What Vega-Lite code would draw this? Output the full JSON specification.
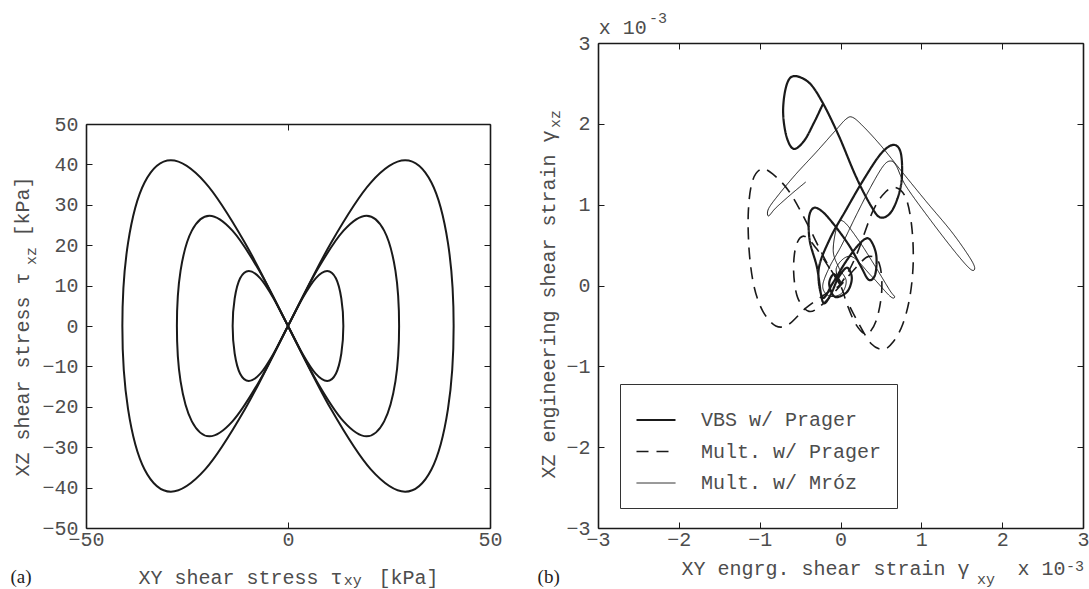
{
  "$schema": "https://vega.github.io/schema/vega-lite/v6.json",
  "background": "white",
  "padding": {"left": 10, "top": 10, "right": 5, "bottom": 0},
  "spacing": 108,
  "bounds": "flush",
  "config": {
    "view": {"stroke": null},
    "axis": {
      "labelFont": "Liberation Mono", "labelFontSize": 20, "labelColor": "#4d4d4d",
      "titleFont": "Liberation Mono", "titleFontSize": 20, "titleFontWeight": "normal", "titleColor": "#4d4d4d",
      "domainColor": "#1a1a1a", "domainWidth": 1.6, "tickColor": "#1a1a1a", "tickWidth": 1, "tickSize": -6,
      "labelPadding": 14, "labelFlush": false, "labelOverlap": false, "grid": false
    },
    "axisBottom": {"labelPadding": 7}
  },
  "hconcat": [
    {
      "width": 404,
      "height": 485,
      "resolve": {"axis": {"x": "independent", "y": "independent"}},
      "layer": [
        {
          "data": {"values": [
            {"curve": "outer", "i": 0, "x": 0, "y": 0},
            {"curve": "outer", "i": 1, "x": 10.6, "y": 20.5},
            {"curve": "outer", "i": 2, "x": 20.5, "y": 35.5},
            {"curve": "outer", "i": 3, "x": 29.0, "y": 41.0},
            {"curve": "outer", "i": 4, "x": 35.5, "y": 35.5},
            {"curve": "outer", "i": 5, "x": 39.6, "y": 20.5},
            {"curve": "outer", "i": 6, "x": 41.0, "y": 0},
            {"curve": "outer", "i": 7, "x": 39.6, "y": -20.5},
            {"curve": "outer", "i": 8, "x": 35.5, "y": -35.5},
            {"curve": "outer", "i": 9, "x": 29.0, "y": -41.0},
            {"curve": "outer", "i": 10, "x": 20.5, "y": -35.5},
            {"curve": "outer", "i": 11, "x": 10.6, "y": -20.5},
            {"curve": "outer", "i": 12, "x": 0, "y": 0},
            {"curve": "outer", "i": 13, "x": -10.6, "y": 20.5},
            {"curve": "outer", "i": 14, "x": -20.5, "y": 35.5},
            {"curve": "outer", "i": 15, "x": -29.0, "y": 41.0},
            {"curve": "outer", "i": 16, "x": -35.5, "y": 35.5},
            {"curve": "outer", "i": 17, "x": -39.6, "y": 20.5},
            {"curve": "outer", "i": 18, "x": -41.0, "y": 0},
            {"curve": "outer", "i": 19, "x": -39.6, "y": -20.5},
            {"curve": "outer", "i": 20, "x": -35.5, "y": -35.5},
            {"curve": "outer", "i": 21, "x": -29.0, "y": -41.0},
            {"curve": "outer", "i": 22, "x": -20.5, "y": -35.5},
            {"curve": "outer", "i": 23, "x": -10.6, "y": -20.5},
            {"curve": "middle", "i": 0, "x": 0, "y": 0},
            {"curve": "middle", "i": 1, "x": 7.1, "y": 13.65},
            {"curve": "middle", "i": 2, "x": 13.75, "y": 23.6},
            {"curve": "middle", "i": 3, "x": 19.45, "y": 27.3},
            {"curve": "middle", "i": 4, "x": 23.8, "y": 23.6},
            {"curve": "middle", "i": 5, "x": 26.6, "y": 13.65},
            {"curve": "middle", "i": 6, "x": 27.5, "y": 0},
            {"curve": "middle", "i": 7, "x": 26.6, "y": -13.65},
            {"curve": "middle", "i": 8, "x": 23.8, "y": -23.6},
            {"curve": "middle", "i": 9, "x": 19.45, "y": -27.3},
            {"curve": "middle", "i": 10, "x": 13.75, "y": -23.6},
            {"curve": "middle", "i": 11, "x": 7.1, "y": -13.65},
            {"curve": "middle", "i": 12, "x": 0, "y": 0},
            {"curve": "middle", "i": 13, "x": -7.1, "y": 13.65},
            {"curve": "middle", "i": 14, "x": -13.75, "y": 23.6},
            {"curve": "middle", "i": 15, "x": -19.45, "y": 27.3},
            {"curve": "middle", "i": 16, "x": -23.8, "y": 23.6},
            {"curve": "middle", "i": 17, "x": -26.6, "y": 13.65},
            {"curve": "middle", "i": 18, "x": -27.5, "y": 0},
            {"curve": "middle", "i": 19, "x": -26.6, "y": -13.65},
            {"curve": "middle", "i": 20, "x": -23.8, "y": -23.6},
            {"curve": "middle", "i": 21, "x": -19.45, "y": -27.3},
            {"curve": "middle", "i": 22, "x": -13.75, "y": -23.6},
            {"curve": "middle", "i": 23, "x": -7.1, "y": -13.65},
            {"curve": "inner", "i": 0, "x": 0, "y": 0},
            {"curve": "inner", "i": 1, "x": 3.55, "y": 6.8},
            {"curve": "inner", "i": 2, "x": 6.85, "y": 11.8},
            {"curve": "inner", "i": 3, "x": 9.7, "y": 13.6},
            {"curve": "inner", "i": 4, "x": 11.85, "y": 11.8},
            {"curve": "inner", "i": 5, "x": 13.2, "y": 6.8},
            {"curve": "inner", "i": 6, "x": 13.7, "y": 0},
            {"curve": "inner", "i": 7, "x": 13.2, "y": -6.8},
            {"curve": "inner", "i": 8, "x": 11.85, "y": -11.8},
            {"curve": "inner", "i": 9, "x": 9.7, "y": -13.6},
            {"curve": "inner", "i": 10, "x": 6.85, "y": -11.8},
            {"curve": "inner", "i": 11, "x": 3.55, "y": -6.8},
            {"curve": "inner", "i": 12, "x": 0, "y": 0},
            {"curve": "inner", "i": 13, "x": -3.55, "y": 6.8},
            {"curve": "inner", "i": 14, "x": -6.85, "y": 11.8},
            {"curve": "inner", "i": 15, "x": -9.7, "y": 13.6},
            {"curve": "inner", "i": 16, "x": -11.85, "y": 11.8},
            {"curve": "inner", "i": 17, "x": -13.2, "y": 6.8},
            {"curve": "inner", "i": 18, "x": -13.7, "y": 0},
            {"curve": "inner", "i": 19, "x": -13.2, "y": -6.8},
            {"curve": "inner", "i": 20, "x": -11.85, "y": -11.8},
            {"curve": "inner", "i": 21, "x": -9.7, "y": -13.6},
            {"curve": "inner", "i": 22, "x": -6.85, "y": -11.8},
            {"curve": "inner", "i": 23, "x": -3.55, "y": -6.8}
          ]},
          "mark": {"type": "line", "interpolate": "cardinal-closed", "stroke": "#1a1a1a", "strokeWidth": 2},
          "encoding": {
            "x": {"field": "x", "type": "quantitative",
                  "scale": {"domain": [-50, 50], "nice": false, "zero": false},
                  "axis": {"orient": "bottom", "values": [-50, 0, 50], "title": "XY shear stress τ\u00a0\u00a0\u00a0[kPa]",
                           "titleY": 55, "titleBaseline": "alphabetic"}},
            "y": {"field": "y", "type": "quantitative",
                  "scale": {"domain": [-50, 50], "nice": false, "zero": false, "range": [485, 81]},
                  "axis": {"orient": "left", "values": [-50, -40, -30, -20, -10, 0, 10, 20, 30, 40, 50],
                           "title": "XZ shear stress τ\u00a0\u00a0\u00a0[kPa]", "titleX": -58, "titleBaseline": "alphabetic"}},
            "detail": {"field": "curve"},
            "order": {"field": "i"}
          }
        },
        {
          "data": {"values": [{}]},
          "mark": {"type": "text", "text": "xy", "font": "Liberation Mono", "fontSize": 15, "fill": "#4d4d4d", "align": "center", "baseline": "alphabetic"},
          "encoding": {
            "x": {"datum": 16.0, "type": "quantitative",
                  "axis": {"orient": "top", "values": [-50, 0, 50], "labels": false, "title": null, "offset": -81}},
            "y": {"datum": -64.1, "type": "quantitative",
                  "axis": {"orient": "right", "values": [-50, -40, -30, -20, -10, 0, 10, 20, 30, 40, 50], "labels": false, "title": null}}
          }
        },
        {
          "data": {"values": [{}]},
          "mark": {"type": "text", "text": "xz", "font": "Liberation Mono", "fontSize": 15, "fill": "#4d4d4d", "align": "center", "baseline": "alphabetic", "angle": 270},
          "encoding": {
            "x": {"datum": -62.4, "type": "quantitative", "axis": null},
            "y": {"datum": 17.3, "type": "quantitative", "axis": null}
          }
        },
        {
          "data": {"values": [{}]},
          "mark": {"type": "text", "text": "(a)", "font": "Liberation Serif", "fontSize": 19, "fill": "#222222", "align": "center", "baseline": "alphabetic"},
          "encoding": {
            "x": {"datum": -66.1, "type": "quantitative", "axis": null},
            "y": {"datum": -63.6, "type": "quantitative", "axis": null}
          }
        }
      ]
    },
    {
      "width": 485,
      "height": 485,
      "resolve": {"axis": {"x": "independent", "y": "independent"}},
      "layer": [
        {
          "data": {"values": [
            {"series": "VBS w/ Prager", "i": 0, "x": 0.01, "y": 0.02},
            {"series": "VBS w/ Prager", "i": 1, "x": -0.08, "y": 0.14},
            {"series": "VBS w/ Prager", "i": 2, "x": -0.14, "y": 0.02},
            {"series": "VBS w/ Prager", "i": 3, "x": -0.07, "y": -0.14},
            {"series": "VBS w/ Prager", "i": 4, "x": 0.08, "y": -0.08},
            {"series": "VBS w/ Prager", "i": 5, "x": 0.14, "y": 0.09},
            {"series": "VBS w/ Prager", "i": 6, "x": 0.08, "y": 0.22},
            {"series": "VBS w/ Prager", "i": 7, "x": -0.03, "y": 0.09},
            {"series": "VBS w/ Prager", "i": 8, "x": -0.13, "y": -0.13},
            {"series": "VBS w/ Prager", "i": 9, "x": -0.22, "y": -0.2},
            {"series": "VBS w/ Prager", "i": 10, "x": -0.29, "y": 0.22},
            {"series": "VBS w/ Prager", "i": 11, "x": -0.38, "y": 0.55},
            {"series": "VBS w/ Prager", "i": 12, "x": -0.39, "y": 0.84},
            {"series": "VBS w/ Prager", "i": 13, "x": -0.33, "y": 0.96},
            {"series": "VBS w/ Prager", "i": 14, "x": -0.22, "y": 0.91},
            {"series": "VBS w/ Prager", "i": 15, "x": -0.07, "y": 0.74},
            {"series": "VBS w/ Prager", "i": 16, "x": 0.11, "y": 0.49},
            {"series": "VBS w/ Prager", "i": 17, "x": 0.25, "y": 0.24},
            {"series": "VBS w/ Prager", "i": 18, "x": 0.35, "y": 0.07},
            {"series": "VBS w/ Prager", "i": 19, "x": 0.43, "y": 0.14},
            {"series": "VBS w/ Prager", "i": 20, "x": 0.44, "y": 0.39},
            {"series": "VBS w/ Prager", "i": 21, "x": 0.35, "y": 0.58},
            {"series": "VBS w/ Prager", "i": 22, "x": 0.23, "y": 0.51},
            {"series": "VBS w/ Prager", "i": 23, "x": 0.07, "y": 0.3},
            {"series": "VBS w/ Prager", "i": 24, "x": -0.09, "y": 0.04},
            {"series": "VBS w/ Prager", "i": 25, "x": -0.22, "y": -0.15},
            {"series": "VBS w/ Prager", "i": 26, "x": -0.27, "y": 0.2},
            {"series": "VBS w/ Prager", "i": 27, "x": -0.13, "y": 0.58},
            {"series": "VBS w/ Prager", "i": 28, "x": 0.06, "y": 0.92},
            {"series": "VBS w/ Prager", "i": 29, "x": 0.28, "y": 1.3},
            {"series": "VBS w/ Prager", "i": 30, "x": 0.5, "y": 1.63},
            {"series": "VBS w/ Prager", "i": 31, "x": 0.66, "y": 1.74},
            {"series": "VBS w/ Prager", "i": 32, "x": 0.75, "y": 1.62},
            {"series": "VBS w/ Prager", "i": 33, "x": 0.75, "y": 1.25},
            {"series": "VBS w/ Prager", "i": 34, "x": 0.64, "y": 0.93},
            {"series": "VBS w/ Prager", "i": 35, "x": 0.5, "y": 0.84},
            {"series": "VBS w/ Prager", "i": 36, "x": 0.38, "y": 0.98},
            {"series": "VBS w/ Prager", "i": 37, "x": 0.19, "y": 1.35},
            {"series": "VBS w/ Prager", "i": 38, "x": -0.02, "y": 1.85},
            {"series": "VBS w/ Prager", "i": 39, "x": -0.22, "y": 2.26},
            {"series": "VBS w/ Prager", "i": 40, "x": -0.39, "y": 2.51},
            {"series": "VBS w/ Prager", "i": 41, "x": -0.58, "y": 2.59},
            {"series": "VBS w/ Prager", "i": 42, "x": -0.67, "y": 2.47},
            {"series": "VBS w/ Prager", "i": 43, "x": -0.71, "y": 2.16},
            {"series": "VBS w/ Prager", "i": 44, "x": -0.67, "y": 1.85},
            {"series": "VBS w/ Prager", "i": 45, "x": -0.58, "y": 1.69},
            {"series": "VBS w/ Prager", "i": 46, "x": -0.45, "y": 1.79},
            {"series": "VBS w/ Prager", "i": 47, "x": -0.33, "y": 2.01},
            {"series": "VBS w/ Prager", "i": 48, "x": -0.22, "y": 2.24},
            {"series": "Mult. w/ Prager", "i": 0, "x": 0.0, "y": 0.0},
            {"series": "Mult. w/ Prager", "i": 1, "x": -0.14, "y": 0.22},
            {"series": "Mult. w/ Prager", "i": 2, "x": -0.3, "y": 0.46},
            {"series": "Mult. w/ Prager", "i": 3, "x": -0.45, "y": 0.61},
            {"series": "Mult. w/ Prager", "i": 4, "x": -0.55, "y": 0.49},
            {"series": "Mult. w/ Prager", "i": 5, "x": -0.58, "y": 0.18},
            {"series": "Mult. w/ Prager", "i": 6, "x": -0.53, "y": -0.15},
            {"series": "Mult. w/ Prager", "i": 7, "x": -0.39, "y": -0.32},
            {"series": "Mult. w/ Prager", "i": 8, "x": -0.22, "y": -0.23},
            {"series": "Mult. w/ Prager", "i": 9, "x": 0.0, "y": 0.0},
            {"series": "Mult. w/ Prager", "i": 10, "x": 0.19, "y": 0.22},
            {"series": "Mult. w/ Prager", "i": 11, "x": 0.35, "y": 0.36},
            {"series": "Mult. w/ Prager", "i": 12, "x": 0.48, "y": 0.27},
            {"series": "Mult. w/ Prager", "i": 13, "x": 0.51, "y": -0.07},
            {"series": "Mult. w/ Prager", "i": 14, "x": 0.44, "y": -0.44},
            {"series": "Mult. w/ Prager", "i": 15, "x": 0.32, "y": -0.6},
            {"series": "Mult. w/ Prager", "i": 16, "x": 0.19, "y": -0.48},
            {"series": "Mult. w/ Prager", "i": 17, "x": 0.08, "y": -0.23},
            {"series": "Mult. w/ Prager", "i": 18, "x": 0.0, "y": 0.0},
            {"series": "Mult. w/ Prager", "i": 19, "x": -0.18, "y": 0.3},
            {"series": "Mult. w/ Prager", "i": 20, "x": -0.43, "y": 0.8},
            {"series": "Mult. w/ Prager", "i": 21, "x": -0.64, "y": 1.17},
            {"series": "Mult. w/ Prager", "i": 22, "x": -0.84, "y": 1.38},
            {"series": "Mult. w/ Prager", "i": 23, "x": -0.98, "y": 1.44},
            {"series": "Mult. w/ Prager", "i": 24, "x": -1.09, "y": 1.29},
            {"series": "Mult. w/ Prager", "i": 25, "x": -1.14, "y": 0.92},
            {"series": "Mult. w/ Prager", "i": 26, "x": -1.13, "y": 0.43},
            {"series": "Mult. w/ Prager", "i": 27, "x": -1.07, "y": -0.01},
            {"series": "Mult. w/ Prager", "i": 28, "x": -0.96, "y": -0.32},
            {"series": "Mult. w/ Prager", "i": 29, "x": -0.8, "y": -0.5},
            {"series": "Mult. w/ Prager", "i": 30, "x": -0.64, "y": -0.48},
            {"series": "Mult. w/ Prager", "i": 31, "x": -0.43, "y": -0.28},
            {"series": "Mult. w/ Prager", "i": 32, "x": -0.18, "y": -0.1},
            {"series": "Mult. w/ Prager", "i": 33, "x": 0.0, "y": 0.02},
            {"series": "Mult. w/ Prager", "i": 34, "x": 0.19, "y": 0.36},
            {"series": "Mult. w/ Prager", "i": 35, "x": 0.4, "y": 0.92},
            {"series": "Mult. w/ Prager", "i": 36, "x": 0.56, "y": 1.16},
            {"series": "Mult. w/ Prager", "i": 37, "x": 0.69, "y": 1.21},
            {"series": "Mult. w/ Prager", "i": 38, "x": 0.81, "y": 1.08},
            {"series": "Mult. w/ Prager", "i": 39, "x": 0.88, "y": 0.74},
            {"series": "Mult. w/ Prager", "i": 40, "x": 0.9, "y": 0.3},
            {"series": "Mult. w/ Prager", "i": 41, "x": 0.86, "y": -0.13},
            {"series": "Mult. w/ Prager", "i": 42, "x": 0.77, "y": -0.48},
            {"series": "Mult. w/ Prager", "i": 43, "x": 0.65, "y": -0.7},
            {"series": "Mult. w/ Prager", "i": 44, "x": 0.53, "y": -0.79},
            {"series": "Mult. w/ Prager", "i": 45, "x": 0.38, "y": -0.72},
            {"series": "Mult. w/ Prager", "i": 46, "x": 0.23, "y": -0.48},
            {"series": "Mult. w/ Prager", "i": 47, "x": 0.1, "y": -0.23},
            {"series": "Mult. w/ Mróz", "i": 0, "x": -0.43, "y": 1.28},
            {"series": "Mult. w/ Mróz", "i": 1, "x": -0.61, "y": 1.13},
            {"series": "Mult. w/ Mróz", "i": 2, "x": -0.8, "y": 0.96},
            {"series": "Mult. w/ Mróz", "i": 3, "x": -0.89, "y": 0.86},
            {"series": "Mult. w/ Mróz", "i": 4, "x": -0.89, "y": 0.95},
            {"series": "Mult. w/ Mróz", "i": 5, "x": -0.76, "y": 1.13},
            {"series": "Mult. w/ Mróz", "i": 6, "x": -0.55, "y": 1.38},
            {"series": "Mult. w/ Mróz", "i": 7, "x": -0.3, "y": 1.65},
            {"series": "Mult. w/ Mróz", "i": 8, "x": -0.06, "y": 1.92},
            {"series": "Mult. w/ Mróz", "i": 9, "x": 0.07, "y": 2.06},
            {"series": "Mult. w/ Mróz", "i": 10, "x": 0.15, "y": 2.08},
            {"series": "Mult. w/ Mróz", "i": 11, "x": 0.28, "y": 1.97},
            {"series": "Mult. w/ Mróz", "i": 12, "x": 0.5, "y": 1.73},
            {"series": "Mult. w/ Mróz", "i": 13, "x": 0.75, "y": 1.42},
            {"series": "Mult. w/ Mróz", "i": 14, "x": 1.06, "y": 1.04},
            {"series": "Mult. w/ Mróz", "i": 15, "x": 1.37, "y": 0.67},
            {"series": "Mult. w/ Mróz", "i": 16, "x": 1.59, "y": 0.36},
            {"series": "Mult. w/ Mróz", "i": 17, "x": 1.66, "y": 0.22},
            {"series": "Mult. w/ Mróz", "i": 18, "x": 1.61, "y": 0.2},
            {"series": "Mult. w/ Mróz", "i": 19, "x": 1.43, "y": 0.4},
            {"series": "Mult. w/ Mróz", "i": 20, "x": 1.12, "y": 0.8},
            {"series": "Mult. w/ Mróz", "i": 21, "x": 0.81, "y": 1.23},
            {"series": "Mult. w/ Mróz", "i": 22, "x": 0.69, "y": 1.48},
            {"series": "Mult. w/ Mróz", "i": 23, "x": 0.62, "y": 1.54},
            {"series": "Mult. w/ Mróz", "i": 24, "x": 0.53, "y": 1.48},
            {"series": "Mult. w/ Mróz", "i": 25, "x": 0.38, "y": 1.23},
            {"series": "Mult. w/ Mróz", "i": 26, "x": 0.19, "y": 0.86},
            {"series": "Mult. w/ Mróz", "i": 27, "x": 0.01, "y": 0.49},
            {"series": "Mult. w/ Mróz", "i": 28, "x": -0.14, "y": 0.22},
            {"series": "Mult. w/ Mróz", "i": 29, "x": -0.22, "y": -0.01},
            {"series": "Mult. w/ Mróz", "i": 30, "x": -0.14, "y": -0.13},
            {"series": "Mult. w/ Mróz", "i": 31, "x": 0.01, "y": -0.1},
            {"series": "Mult. w/ Mróz", "i": 32, "x": 0.07, "y": 0.06},
            {"series": "Mult. w/ Mróz", "i": 33, "x": -0.02, "y": 0.22},
            {"series": "Mult. w/ Mróz", "i": 34, "x": -0.09, "y": 0.43},
            {"series": "Mult. w/ Mróz", "i": 35, "x": -0.04, "y": 0.74},
            {"series": "Mult. w/ Mróz", "i": 36, "x": 0.04, "y": 0.79},
            {"series": "Mult. w/ Mróz", "i": 37, "x": 0.23, "y": 0.55},
            {"series": "Mult. w/ Mróz", "i": 38, "x": 0.44, "y": 0.22},
            {"series": "Mult. w/ Mróz", "i": 39, "x": 0.61, "y": -0.06},
            {"series": "Mult. w/ Mróz", "i": 40, "x": 0.67, "y": -0.14},
            {"series": "Mult. w/ Mróz", "i": 41, "x": 0.61, "y": -0.13},
            {"series": "Mult. w/ Mróz", "i": 42, "x": 0.38, "y": 0.12},
            {"series": "Mult. w/ Mróz", "i": 43, "x": 0.13, "y": 0.36},
            {"series": "Mult. w/ Mróz", "i": 44, "x": -0.05, "y": 0.22},
            {"series": "Mult. w/ Mróz", "i": 45, "x": 0.0, "y": 0.0}
          ]},
          "mark": {"type": "line", "interpolate": "cardinal", "stroke": "#1a1a1a"},
          "encoding": {
            "x": {"field": "x", "type": "quantitative",
                  "scale": {"domain": [-3, 3], "nice": false, "zero": false},
                  "axis": {"orient": "bottom", "values": [-3, -2, -1, 0, 1, 2, 3],
                           "title": "XY engrg. shear strain γ\u00a0\u00a0\u00a0\u00a0x 10", "titleAlign": "left", "titleAnchor": null,
                           "titleX": 83, "titleY": 46, "titleBaseline": "alphabetic"}},
            "y": {"field": "y", "type": "quantitative",
                  "scale": {"domain": [-3, 3], "nice": false, "zero": false},
                  "axis": {"orient": "left", "values": [-3, -2, -1, 0, 1, 2, 3],
                           "title": "XZ engineering shear strain γ", "titleAlign": "left", "titleAnchor": null,
                           "titleX": -44, "titleY": 435, "titleBaseline": "alphabetic"}},
            "strokeDash": {"field": "series", "type": "nominal",
                           "scale": {"domain": ["VBS w/ Prager", "Mult. w/ Prager", "Mult. w/ Mróz"], "range": [[1, 0], [12, 8], [1, 0]]},
                           "legend": {"orient": "none", "legendX": 534, "legendY": 341, "title": null,
                                      "symbolType": "stroke", "symbolSize": 1521, "symbolStrokeColor": "#1a1a1a",
                                      "labelFont": "Liberation Mono", "labelFontSize": 20, "labelColor": "#4d4d4d",
                                      "labelOffset": 24, "rowPadding": 1, "padding": 15, "labelLimit": 400,
                                      "strokeColor": "#333333", "fillColor": "white",
                                      "encode": {"symbols": {"update": {"strokeWidth": {"signal": "datum.value === 'VBS w/ Prager' ? 2.2 : datum.value === 'Mult. w/ Prager' ? 2 : 1"}}}}}},
            "strokeWidth": {"field": "series", "type": "nominal",
                            "scale": {"type": "point", "domain": ["VBS w/ Prager", "Mult. w/ Prager", "Mult. w/ Mróz"], "range": [2.2, 1.0], "padding": 0},
                            "legend": null},
            "order": {"field": "i"}
          }
        },
        {
          "data": {"values": [{}]},
          "mark": {"type": "text", "text": "x 10", "font": "Liberation Mono", "fontSize": 20, "fill": "#4d4d4d", "align": "left", "baseline": "alphabetic"},
          "encoding": {
            "x": {"datum": -2.99, "type": "quantitative",
                  "axis": {"orient": "top", "values": [-3, -2, -1, 0, 1, 2, 3], "labels": false, "title": null}},
            "y": {"datum": 3.11, "type": "quantitative",
                  "axis": {"orient": "right", "values": [-3, -2, -1, 0, 1, 2, 3], "labels": false, "title": null}}
          }
        },
        {
          "data": {"values": [{}]},
          "mark": {"type": "text", "text": "-3", "font": "Liberation Mono", "fontSize": 15, "fill": "#4d4d4d", "align": "left", "baseline": "alphabetic"},
          "encoding": {
            "x": {"datum": -2.37, "type": "quantitative", "axis": null},
            "y": {"datum": 3.25, "type": "quantitative", "axis": null}
          }
        },
        {
          "data": {"values": [{}]},
          "mark": {"type": "text", "text": "-3", "font": "Liberation Mono", "fontSize": 15, "fill": "#4d4d4d", "align": "left", "baseline": "alphabetic"},
          "encoding": {
            "x": {"datum": 2.79, "type": "quantitative", "axis": null},
            "y": {"datum": -3.53, "type": "quantitative", "axis": null}
          }
        },
        {
          "data": {"values": [{}]},
          "mark": {"type": "text", "text": "xy", "font": "Liberation Mono", "fontSize": 15, "fill": "#4d4d4d", "align": "center", "baseline": "alphabetic"},
          "encoding": {
            "x": {"datum": 1.8, "type": "quantitative", "axis": null},
            "y": {"datum": -3.69, "type": "quantitative", "axis": null}
          }
        },
        {
          "data": {"values": [{}]},
          "mark": {"type": "text", "text": "xz", "font": "Liberation Mono", "fontSize": 15, "fill": "#4d4d4d", "align": "center", "baseline": "alphabetic", "angle": 270},
          "encoding": {
            "x": {"datum": -3.47, "type": "quantitative", "axis": null},
            "y": {"datum": 2.06, "type": "quantitative", "axis": null}
          }
        },
        {
          "data": {"values": [{}]},
          "mark": {"type": "text", "text": "(b)", "font": "Liberation Serif", "fontSize": 19, "fill": "#222222", "align": "center", "baseline": "alphabetic"},
          "encoding": {
            "x": {"datum": -3.61, "type": "quantitative", "axis": null},
            "y": {"datum": -3.68, "type": "quantitative", "axis": null}
          }
        }
      ]
    }
  ]
}
